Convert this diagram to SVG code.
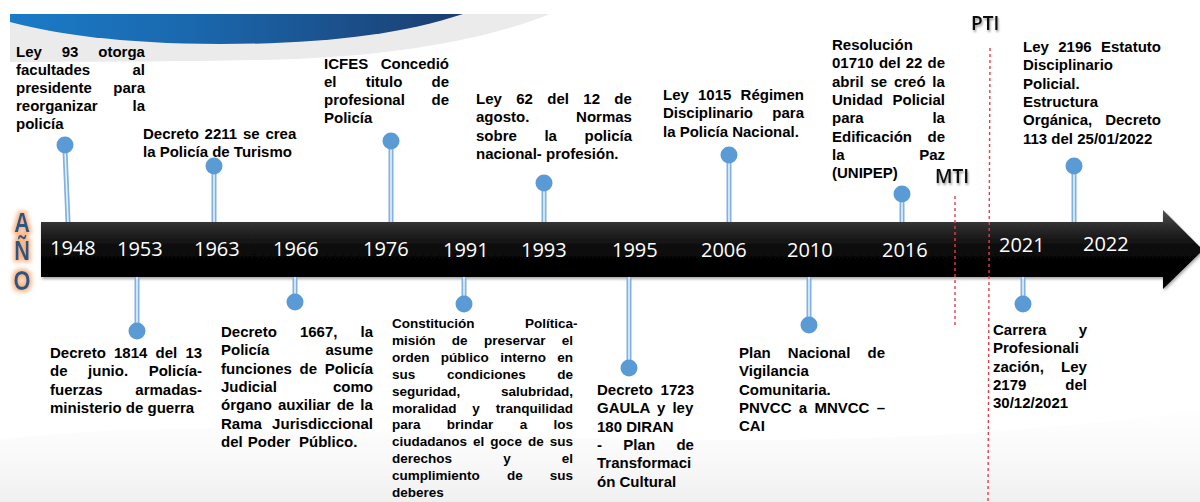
<svg xmlns="http://www.w3.org/2000/svg" width="1200" height="502" viewBox="0 0 1200 502">
<defs>
<style>
.t{font-family:"Liberation Sans",Arial,sans-serif;font-weight:bold;font-size:15px;fill:#000}
.s{font-size:13.5px}
.yr{font-family:"Open Sans","Liberation Sans",sans-serif;font-size:20px;fill:#fff}
.ano{font-family:"Liberation Sans",Arial,sans-serif;font-weight:bold;font-size:23px;fill:#2a5783;text-anchor:middle}
.lbl{font-family:"Open Sans","Liberation Sans",sans-serif;font-weight:600;font-size:19px;fill:#111}
.so{stroke:#7fb2e0;stroke-width:5;fill:none}
.si{stroke:#e6f0fa;stroke-width:1.6;fill:none}
.dot{fill:#5b9bd5}
.red{stroke:#e53e4a;stroke-width:1.4;stroke-dasharray:3 3;fill:none}
</style>
<linearGradient id="blue" x1="10" y1="0" x2="463" y2="0" gradientUnits="userSpaceOnUse">
<stop offset="0" stop-color="#1b7bc7"/><stop offset="0.4" stop-color="#1a68ae"/><stop offset="1" stop-color="#1c3d70"/>
</linearGradient>
<linearGradient id="bar" x1="0" y1="210" x2="0" y2="289" gradientUnits="userSpaceOnUse">
<stop offset="0" stop-color="#555"/><stop offset="0.18" stop-color="#303030"/><stop offset="0.5" stop-color="#080808"/><stop offset="1" stop-color="#000"/>
</linearGradient>
<linearGradient id="bg" x1="0" y1="380" x2="0" y2="502" gradientUnits="userSpaceOnUse">
<stop offset="0" stop-color="#fff" stop-opacity="0"/><stop offset="1" stop-color="#e9e9e9"/>
</linearGradient>
<filter id="sh" x="-5%" y="-30%" width="110%" height="160%">
<feGaussianBlur in="SourceAlpha" stdDeviation="1.6"/><feOffset dx="1" dy="2" result="o"/>
<feFlood flood-color="#000" flood-opacity="0.35"/><feComposite in2="o" operator="in" result="c"/>
<feMerge><feMergeNode in="c"/><feMergeNode in="SourceGraphic"/></feMerge>
</filter>
<filter id="tsh" x="-20%" y="-30%" width="140%" height="170%">
<feGaussianBlur in="SourceAlpha" stdDeviation="1.2"/><feOffset dx="1" dy="2" result="o"/>
<feFlood flood-color="#000" flood-opacity="0.4"/><feComposite in2="o" operator="in" result="c"/>
<feMerge><feMergeNode in="c"/><feMergeNode in="SourceGraphic"/></feMerge>
</filter>
<filter id="glow" x="-60%" y="-20%" width="220%" height="140%">
<feMorphology in="SourceAlpha" operator="dilate" radius="2" result="d"/>
<feGaussianBlur in="d" stdDeviation="2" result="b"/>
<feFlood flood-color="#f6a56a" flood-opacity="0.85"/>
<feComposite in2="b" operator="in" result="g"/>
<feMerge><feMergeNode in="g"/><feMergeNode in="SourceGraphic"/></feMerge>
</filter>
</defs>
<rect width="1200" height="502" fill="#fff"/>
<path d="M0,440 C300,400 700,480 1200,410 L1200,502 L0,502Z" fill="url(#bg)" opacity="0.7"/>
<g id="header">
<path d="M10,14 L550,14 C480,42 380,58 260,60 C150,62 60,62 10,62 Z" fill="#ebebeb"/>
<path d="M10,14 L463,14 C400,35 320,44 220,44 C120,44 50,33 10,22 Z" fill="url(#blue)"/>
</g>
<g id="timeline">
<polygon points="41,222 1163,222 1163,210 1203,250 1163,289 1163,277 41,277" fill="url(#bar)" filter="url(#sh)"/>
<text class="yr" x="50" y="255">1948</text>
<text class="yr" x="117" y="256">1953</text>
<text class="yr" x="194" y="256">1963</text>
<text class="yr" x="273" y="256">1966</text>
<text class="yr" x="363" y="256">1976</text>
<text class="yr" x="443" y="257">1991</text>
<text class="yr" x="521" y="257">1993</text>
<text class="yr" x="612" y="257">1995</text>
<text class="yr" x="701" y="257">2006</text>
<text class="yr" x="787" y="257">2010</text>
<text class="yr" x="882" y="257">2016</text>
<text class="yr" x="999" y="252">2021</text>
<text class="yr" x="1083" y="251">2022</text>
</g>
<g id="ano" filter="url(#glow)">
<text class="ano" transform="scale(0.95,1.22)"><tspan x="23.2" y="190.2">A</tspan><tspan x="23.2" y="213.1">Ñ</tspan><tspan x="23.2" y="237.7">O</tspan></text>
</g>
<g id="periods">
<line class="red" x1="955" y1="196" x2="955" y2="327"/>
<line class="red" x1="990" y1="48" x2="988" y2="502"/>
<text class="lbl" x="971" y="30" filter="url(#tsh)">PTI</text>
<text class="lbl" x="935" y="183" filter="url(#tsh)">MTI</text>
</g>
<g id="connectors">
<path class="so" d="M65,150 L68,222 M137,277 V325 M214,170 V222 M295,277 V298 M391,146 V222 M464,277 V300 M544,187 V222 M629,277 V362 M729,160 V222 M809,277 V320 M902,198 V222 M1023,277 V300 M1074,170 V222"/>
<path class="si" d="M65,150 L68,222 M137,277 V325 M214,170 V222 M295,277 V298 M391,146 V222 M464,277 V300 M544,187 V222 M629,277 V362 M729,160 V222 M809,277 V320 M902,198 V222 M1023,277 V300 M1074,170 V222"/>
</g>
<g id="e1948">
<circle class="dot" cx="65" cy="145" r="8.5"/>
<text class="t"><tspan x="16" y="57" word-spacing="15.7">Ley 93 otorga</tspan><tspan x="16" y="75.1" word-spacing="38.1">facultades al</tspan><tspan x="16" y="93.2" word-spacing="17.3">presidente para</tspan><tspan x="16" y="111.3" word-spacing="30.6">reorganizar la</tspan><tspan x="16" y="129.4">policía</tspan></text>
</g>
<g id="e1953">
<circle class="dot" cx="137" cy="331" r="8.5"/>
<text class="t"><tspan x="50" y="358" word-spacing="4">Decreto 1814 del 13</tspan><tspan x="50" y="376.3" word-spacing="16.4">de junio. Policía-</tspan><tspan x="50" y="394.6" word-spacing="28.6">fuerzas armadas-</tspan><tspan x="50" y="412.9">ministerio de guerra</tspan></text>
</g>
<g id="e1963">
<circle class="dot" cx="214" cy="166" r="8.5"/>
<text class="t"><tspan x="143" y="139" word-spacing="1.6">Decreto 2211 se crea</tspan><tspan x="143" y="157.3">la Policía de Turismo</tspan></text>
</g>
<g id="e1966">
<circle class="dot" cx="295" cy="302" r="8.5"/>
<text class="t"><tspan x="221" y="337" word-spacing="18.9">Decreto 1667, la</tspan><tspan x="221" y="355.3" word-spacing="52">Policía asume</tspan><tspan x="221" y="373.6" word-spacing="3.5">funciones de Policía</tspan><tspan x="221" y="391.9" word-spacing="52">Judicial como</tspan><tspan x="221" y="410.2" word-spacing="2">órgano auxiliar de la</tspan><tspan x="221" y="428.5" word-spacing="6.1">Rama Jurisdiccional</tspan><tspan x="221" y="446.8" word-spacing="1">del Poder</tspan><tspan x="299" y="446.8">Público.</tspan></text>
</g>
<g id="e1976">
<circle class="dot" cx="391" cy="141" r="8.5"/>
<text class="t"><tspan x="324" y="68.5" word-spacing="8.3">ICFES Concedió</tspan><tspan x="324" y="86.8" word-spacing="25">el titulo de</tspan><tspan x="324" y="105.1" word-spacing="22.5">profesional de</tspan><tspan x="324" y="123.4">Policía</tspan></text>
</g>
<g id="e1991">
<circle class="dot" cx="464" cy="304" r="8.5"/>
<text class="t s"><tspan x="392" y="328" word-spacing="46.7">Constitución Política-</tspan><tspan x="392" y="344.9" word-spacing="12.6">misión de preservar el</tspan><tspan x="392" y="361.8" word-spacing="7.6">orden público interno en</tspan><tspan x="392" y="378.7" word-spacing="27.9">sus condiciones de</tspan><tspan x="392" y="395.6" word-spacing="37">seguridad, salubridad,</tspan><tspan x="392" y="412.5" word-spacing="12.1">moralidad y tranquilidad</tspan><tspan x="392" y="429.4" word-spacing="22.6">para brindar a los</tspan><tspan x="392" y="446.3" word-spacing="2.3">ciudadanos el goce de sus</tspan><tspan x="392" y="463.2" word-spacing="47.4">derechos y el</tspan><tspan x="392" y="480.1" word-spacing="23.4">cumplimiento de sus</tspan><tspan x="392" y="497">deberes</tspan></text>
</g>
<g id="e1993">
<circle class="dot" cx="544" cy="183" r="8.5"/>
<text class="t"><tspan x="476" y="104" word-spacing="10.2">Ley 62 del 12 de</tspan><tspan x="476" y="122.3" word-spacing="42.6">agosto. Normas</tspan><tspan x="476" y="140.6" word-spacing="23.4">sobre la policía</tspan><tspan x="476" y="158.9">nacional- profesión.</tspan></text>
</g>
<g id="e1995">
<circle class="dot" cx="629" cy="368" r="8.5"/>
<text class="t"><tspan x="597" y="395" word-spacing="3.6">Decreto 1723</tspan><tspan x="597" y="413.3" word-spacing="3">GAULA y ley</tspan><tspan x="597" y="431.6">180 DIRAN</tspan><tspan x="597" y="449.9" word-spacing="17.2">- Plan de</tspan><tspan x="597" y="468.2">Transformaci</tspan><tspan x="597" y="486.5">ón Cultural</tspan></text>
</g>
<g id="e2006">
<circle class="dot" cx="729" cy="155" r="8.5"/>
<text class="t"><tspan x="663" y="100" word-spacing="5">Ley 1015 Régimen</tspan><tspan x="663" y="118.3" word-spacing="15.1">Disciplinario para</tspan><tspan x="663" y="136.6">la Policía Nacional.</tspan></text>
</g>
<g id="e2010">
<circle class="dot" cx="809" cy="325" r="8.5"/>
<text class="t"><tspan x="739" y="358" word-spacing="13">Plan Nacional de</tspan><tspan x="739" y="376.3">Vigilancia</tspan><tspan x="739" y="394.6">Comunitaria.</tspan><tspan x="739" y="412.9" word-spacing="3.1">PNVCC a MNVCC –</tspan><tspan x="739" y="431.2">CAI</tspan></text>
</g>
<g id="e2016">
<circle class="dot" cx="902" cy="194" r="8.5"/>
<text class="t"><tspan x="832" y="50">Resolución</tspan><tspan x="832" y="68.3" word-spacing="1">01710 del 22 de</tspan><tspan x="832" y="86.6" word-spacing="2.6">abril se creó la</tspan><tspan x="832" y="104.9" word-spacing="5.5">Unidad Policial</tspan><tspan x="832" y="123.2" word-spacing="64.6">para la</tspan><tspan x="832" y="141.5" word-spacing="11.3">Edificación de</tspan><tspan x="832" y="159.8" word-spacing="70.5">la Paz</tspan><tspan x="832" y="178.1">(UNIPEP)</tspan></text>
</g>
<g id="e2021">
<circle class="dot" cx="1023" cy="304" r="8.5"/>
<text class="t"><tspan x="993" y="335" word-spacing="28.1">Carrera y</tspan><tspan x="993" y="353.3">Profesionali</tspan><tspan x="993" y="371.6" word-spacing="13.1">zación, Ley</tspan><tspan x="993" y="389.9" word-spacing="34.8">2179 del</tspan><tspan x="993" y="408.2">30/12/2021</tspan></text>
</g>
<g id="e2022">
<circle class="dot" cx="1074" cy="166" r="8.5"/>
<text class="t"><tspan x="1023" y="52" word-spacing="5.2">Ley 2196 Estatuto</tspan><tspan x="1023" y="70.3">Disciplinario</tspan><tspan x="1023" y="88.6">Policial.</tspan><tspan x="1023" y="106.9">Estructura</tspan><tspan x="1023" y="125.2" word-spacing="8.8">Orgánica, Decreto</tspan><tspan x="1023" y="143.5">113 del 25/01/2022</tspan></text>
</g>
</svg>
